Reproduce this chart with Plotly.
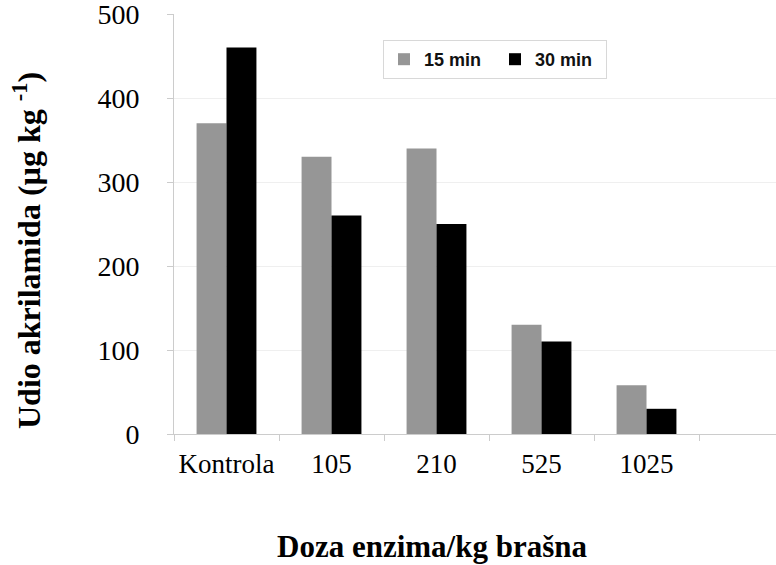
import plotly.graph_objects as go

categories = ["Kontrola", "105", "210", "525", "1025"]
min15 = [370, 330, 340, 130, 58]
min30 = [460, 260, 250, 110, 30]
series_names = ["15 min", "30 min"]
y_ticks = [0, 100, 200, 300, 400, 500]

fig = go.Figure()
fig.add_trace(go.Bar(x=categories, y=min15, name=series_names[0],
                     marker=dict(color="#969696", line=dict(width=0))))
fig.add_trace(go.Bar(x=categories, y=min30, name=series_names[1],
                     marker=dict(color="#000000", line=dict(width=0))))

serif = "Liberation Serif, Times New Roman, serif"
W, H = 776, 565
L, R, T, B = 174, 0, 14, 131
pw = W - L - R
ph = H - T - B

fig.update_layout(
    width=W, height=H,
    margin=dict(l=L, r=R, t=T, b=B, autoexpand=False),
    paper_bgcolor="white", plot_bgcolor="white",
    barmode="group", bargap=0.43, bargroupgap=0,
    showlegend=True,
    legend=dict(orientation="h", x=(383 - L) / pw, y=(434 - 40) / ph,
                xanchor="left", yanchor="top",
                bordercolor="#d8d8d8", borderwidth=1,
                font=dict(family="Liberation Sans, Arial, sans-serif", size=18,
                          color="#111", weight="bold"),
                itemwidth=30, entrywidth=66, itemsizing="constant",
                traceorder="normal", tracegroupgap=0),
    xaxis=dict(range=[-0.5, -0.5 + pw / 105.0], tickson="boundaries",
               ticks="outside", ticklen=6, tickcolor="#cccccc",
               showline=True, linecolor="#cccccc", linewidth=1,
               showgrid=False, tickfont=dict(family=serif, size=27, color="#000"),
               ticklabelstandoff=6, ticklabeloverflow="allow"),
    yaxis=dict(range=[0, 500], tickvals=y_ticks,
               ticks="outside", ticklen=6, tickcolor="#cccccc",
               showline=True, linecolor="#cccccc", linewidth=1,
               showgrid=True, gridcolor="#efefef", zeroline=False,
               tickfont=dict(family=serif, size=28, color="#000"),
               ticklabelstandoff=22, ticklabeloverflow="allow"),
    font=dict(family=serif, color="#000"),
)

fig.add_annotation(xref="paper", yref="paper", x=(27 - L) / pw, y=(434 - 251) / ph,
                   text="<b>Udio akrilamida (µg kg <sup>-1</sup>)</b>",
                   textangle=-90, showarrow=False, xanchor="center", yanchor="middle",
                   font=dict(family=serif, size=32, color="#000"))
fig.add_annotation(xref="paper", yref="paper", x=(432 - L) / pw, y=-(546 - 434) / ph,
                   text="<b>Doza enzima/kg brašna</b>",
                   showarrow=False, xanchor="center", yanchor="middle",
                   font=dict(family=serif, size=31, color="#000"))

fig.write_html("out.html", config={"displayModeBar": False},
               post_script="document.body.style.margin='0';document.body.style.padding='0';")
